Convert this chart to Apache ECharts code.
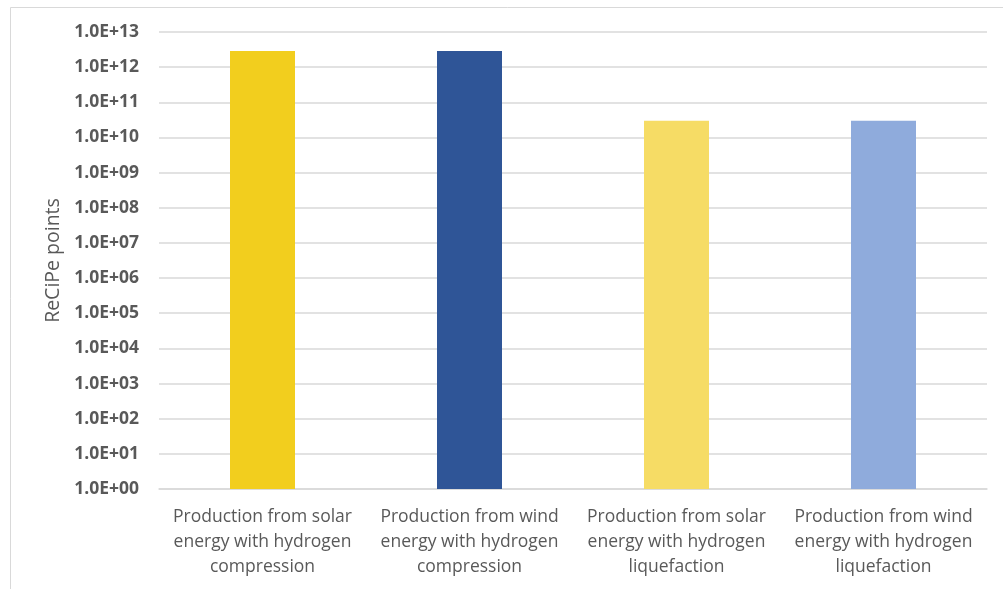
<!DOCTYPE html>
<html>
<head>
<meta charset="utf-8">
<script src="https://cdn.jsdelivr.net/npm/echarts@6/dist/echarts.min.js"></script>
<style>
html,body{margin:0;padding:0;background:#fff;}
#chart{width:1003px;height:589px;}
</style>
</head>
<body>
<div id="chart"></div>
<script>
var categories = [
  "Production from solar\nenergy with hydrogen\ncompression",
  "Production from wind\nenergy with hydrogen\ncompression",
  "Production from solar\nenergy with hydrogen\nliquefaction",
  "Production from wind\nenergy with hydrogen\nliquefaction"
];
var values = [2.9e12, 2.9e12, 3.0e10, 3.0e10];
var barColors = ["#F2CE1E", "#2F5597", "#F6DC65", "#8FABDC"];
var yAxisName = "ReCiPe points";

var chart = echarts.init(document.getElementById('chart'));
chart.setOption({
  animation: false,
  backgroundColor: '#fff',
  graphic: [{
    type: 'rect',
    shape: { x: 10.5, y: 7.5, width: 1200, height: 800 },
    style: { fill: 'none', stroke: '#D9D9D9', lineWidth: 1 },
    silent: true
  }],
  grid: { left: 159, right: 16, top: 32, bottom: 100, containLabel: false },
  xAxis: {
    type: 'category',
    data: categories,
    axisTick: { show: false },
    axisLine: { lineStyle: { color: '#D9D9D9', width: 1.5 } },
    axisLabel: {
      interval: 0,
      color: '#595959',
      fontFamily: 'Open Sans',
      fontSize: 17.5,
      lineHeight: 25,
      margin: 16
    }
  },
  yAxis: {
    type: 'log',
    logBase: 10,
    min: 1,
    max: 1e13,
    interval: 1,
    name: yAxisName,
    nameLocation: 'middle',
    nameRotate: 90,
    nameGap: 93,
    nameTextStyle: { color: '#595959', fontFamily: 'Open Sans', fontSize: 19.5 },
    axisLine: { show: false },
    axisTick: { show: false },
    splitLine: { lineStyle: { color: '#D9D9D9', width: 1.5 } },
    axisLabel: {
      color: '#595959',
      fontFamily: 'Open Sans',
      fontWeight: 'bold',
      fontSize: 17.5,
      margin: 20,
      formatter: function (v) {
        var e = Math.round(Math.log10(v));
        return '1.0E+' + (e < 10 ? '0' + e : e);
      }
    }
  },
  series: [{
    type: 'bar',
    data: values.map(function (v, i) {
      return { value: v, itemStyle: { color: barColors[i] } };
    }),
    barWidth: 65
  }]
});
</script>
</body>
</html>
